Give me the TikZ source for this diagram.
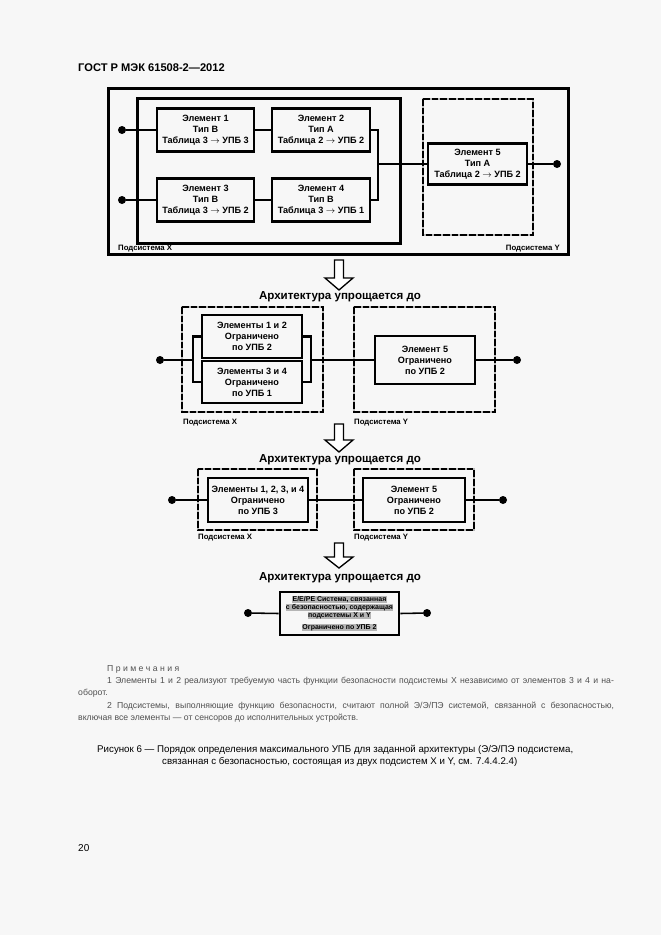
\documentclass[tikz,border=0pt]{standalone}
\usepackage{fontspec}
\setmainfont{Liberation Sans}
\definecolor{pagebg}{HTML}{F7F7F7}
\definecolor{notegray}{HTML}{505050}
\definecolor{hlgray}{HTML}{B5B5B5}
\begin{document}
\begin{tikzpicture}[x=0.9pt,y=-0.9pt,
  frame/.style={line width=2.7pt},
  elem/.style={draw, line width=2.5pt, align=center, inner sep=0pt,
    font=\bfseries\fontsize{8.2}{10}\selectfont},
  conn/.style={line width=1.9pt},
  connb/.style={line width=1.4pt},
  dotn/.style={circle, fill=black, inner sep=0pt, minimum size=7.2pt},
  dframeg/.style={draw=gray!55, line width=2.6pt},
  dframe/.style={draw=black, line width=1.7pt, dash pattern=on 6pt off 1.8pt},
  lbl/.style={inner sep=0pt, font=\bfseries\fontsize{7}{8}\selectfont},
  ttl/.style={inner sep=0pt, font=\bfseries\fontsize{10.4}{12}\selectfont},
  harrow/.style={draw=black, fill=white, line width=1.2pt, line join=miter},
  note/.style={inner sep=0pt, anchor=west, text=notegray, font=\fontsize{7.8}{9}\selectfont},
  capt/.style={inner sep=0pt, anchor=west, font=\fontsize{8.75}{10}\selectfont}
]
\fill[pagebg] (0,0) rectangle (661,935);
\useasboundingbox (0,0) rectangle (661,935);

% header
\node[anchor=west, inner sep=0pt, font=\bfseries\fontsize{10}{12}\selectfont] (hdr) at (78,68) {ГОСТ Р МЭК 61508-2—2012};

% ---------- top diagram ----------
\draw[frame] (108,88) rectangle (568,254);
\draw[frame] (137,98) rectangle (400,243);
\draw[dframeg] (423,99) rectangle (533,235);
\draw[dframe] (423,99) rectangle (533,235);

\node[elem, minimum width=87.3pt, minimum height=38.7pt] (e1) at (205.5,130) {Элемент 1\\Тип B\\Таблица 3 $\rightarrow$ УПБ 3};
\node[elem, minimum width=88.2pt, minimum height=38.7pt] (e2) at (321,130) {Элемент 2\\Тип A\\Таблица 2 $\rightarrow$ УПБ 2};
\node[elem, minimum width=87.3pt, minimum height=38.7pt] (e3) at (205.5,200) {Элемент 3\\Тип B\\Таблица 3 $\rightarrow$ УПБ 2};
\node[elem, minimum width=88.2pt, minimum height=38.7pt] (e4) at (321,200) {Элемент 4\\Тип B\\Таблица 3 $\rightarrow$ УПБ 1};
\node[elem, minimum width=89.1pt, minimum height=36.9pt] (e5) at (477.5,164) {Элемент 5\\Тип A\\Таблица 2 $\rightarrow$ УПБ 2};

\node[dotn] (d1) at (122,130) {};
\node[dotn] (d2) at (122,200) {};
\node[dotn] (d3) at (557,164) {};
\coordinate (j1) at (378,164);

\draw[conn] (d1) -- (e1.west);
\draw[conn] (d2) -- (e3.west);
\draw[conn] (e1) -- (e2);
\draw[conn] (e3) -- (e4);
\draw[conn] (e2.east) -| (j1) |- (e4.east);
\draw[conn] (j1) -- (e5.west);
\draw[conn] (e5.east) -- (d3);

\node[lbl, anchor=west] (sx1) at (118,248.5) {Подсистема X};
\node[lbl, anchor=east] (sy1) at (560,248.5) {Подсистема Y};

% ---------- arrow 1 ----------
\draw[harrow] (334.5,260) -- (343.5,260) -- (343.5,278) -- (353,278) -- (339,290) -- (325,278) -- (334.5,278) -- cycle;
\node[ttl] (t1) at (340,297) {Архитектура упрощается до};

% ---------- second diagram ----------
\draw[dframeg] (182,307) rectangle (323,412);
\draw[dframe] (182,307) rectangle (323,412);
\draw[dframeg] (354,307) rectangle (495,412);
\draw[dframe] (354,307) rectangle (495,412);

\node[elem, minimum width=90pt, minimum height=38.7pt] (b12) at (252,336.5) {Элементы 1 и 2\\Ограничено\\по УПБ 2};
\node[elem, minimum width=90pt, minimum height=37.8pt] (b34) at (252,382) {Элементы 3 и 4\\Ограничено\\по УПБ 1};
\node[elem, minimum width=90pt, minimum height=43.2pt] (b5) at (425,360) {Элемент 5\\Ограничено\\по УПБ 2};

\node[dotn] (d4) at (160,360) {};
\node[dotn] (d5) at (517,360) {};
\coordinate (lb) at (193,360);
\coordinate (rb) at (311,360);

\draw[connb, line width=2pt] (b12.west) -| (lb) |- (b34.west);
\draw[connb, line width=2pt] (b12.east) -| (rb) |- (b34.east);
\draw[connb] (d4) -- (lb);
\draw[connb] (rb) -- (b5.west);
\draw[connb] (b5.east) -- (d5);

\node[lbl, anchor=west] (sx2) at (183,423) {Подсистема X};
\node[lbl, anchor=west] (sy2) at (354,423) {Подсистема Y};

% ---------- arrow 2 ----------
\draw[harrow] (334.5,424) -- (343.5,424) -- (343.5,440) -- (353,440) -- (339,452) -- (325,440) -- (334.5,440) -- cycle;
\node[ttl] (t2) at (340,460) {Архитектура упрощается до};

% ---------- third diagram ----------
\draw[dframeg] (198,469) rectangle (317,530);
\draw[dframe] (198,469) rectangle (317,530);
\draw[dframeg] (354,469) rectangle (474,530);
\draw[dframe] (354,469) rectangle (474,530);

\node[elem, minimum width=90pt, minimum height=39.6pt] (c1) at (258,500) {Элементы 1, 2, 3, и 4\\Ограничено\\по УПБ 3};
\node[elem, minimum width=91.8pt, minimum height=39.6pt] (c2) at (414,500) {Элемент 5\\Ограничено\\по УПБ 2};

\node[dotn] (d6) at (172,500) {};
\node[dotn] (d7) at (503,500) {};
\draw[connb] (d6) -- (c1.west);
\draw[connb] (c1.east) -- (c2.west);
\draw[connb] (c2.east) -- (d7);

\node[lbl, anchor=west] (sx3) at (198,538) {Подсистема X};
\node[lbl, anchor=west] (sy3) at (354,538) {Подсистема Y};

% ---------- arrow 3 ----------
\draw[harrow] (334.5,543) -- (343.5,543) -- (343.5,557) -- (353,557) -- (339,568) -- (325,557) -- (334.5,557) -- cycle;
\node[ttl] (t3) at (340,578) {Архитектура упрощается до};

% ---------- final ----------
\node[elem, minimum width=107.1pt, minimum height=38.7pt, font=\bfseries\fontsize{6.3}{7.3}\selectfont\setlength{\fboxsep}{0.4pt}] (fin) at (339.5,613.5)
 {\colorbox{hlgray}{E/E/PE Система, связанная}\\\colorbox{hlgray}{с безопасностью, содержащая}\\\colorbox{hlgray}{подсистемы X и Y}\\[3.5pt]\colorbox{hlgray}{Ограничено по УПБ 2}};
\node[dotn] (d8) at (248,613) {};
\node[dotn] (d9) at (427,613) {};
\draw[connb] (d8) -- (fin.west);
\draw[connb] (fin.east) -- (d9);

% ---------- notes ----------
\node[note] (nt) at (107,669) {П р и м е ч а н и я};
\node[note] (n1) at (107,681) {\makebox[456pt][s]{1 Элементы 1 и 2 реализуют требуемую часть функции безопасности подсистемы X независимо от элементов 3 и 4 и на-}};
\node[note] (n1b) at (78,693) {оборот.};
\node[note] (n2) at (107,706) {\makebox[456pt][s]{2 Подсистемы, выполняющие функцию безопасности, считают полной Э/Э/ПЭ системой, связанной с безопасностью,}};
\node[note] (n2b) at (78,718) {включая все элементы — от сенсоров до исполнительных устройств.};

% ---------- caption ----------
\node[capt] (c1t) at (97,750) {Рисунок 6 — Порядок определения максимального УПБ для заданной архитектуры (Э/Э/ПЭ подсистема,};
\node[capt] (c2t) at (162,762) {связанная с безопасностью, состоящая из двух подсистем X и Y, см. 7.4.4.2.4)};

% page number
\node[capt, font=\fontsize{9}{10}\selectfont] (pg) at (78,848) {20};
\end{tikzpicture}
\end{document}
